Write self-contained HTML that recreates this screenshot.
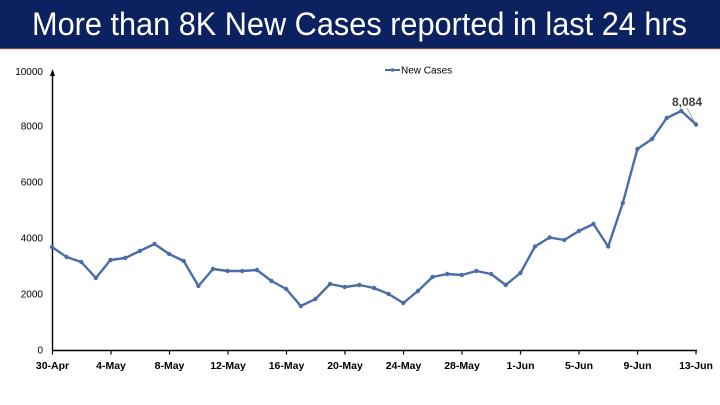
<!DOCTYPE html>
<html><head><meta charset="utf-8"><style>
html,body{margin:0;padding:0;background:#fff;}
svg{display:block;}
</style></head><body>
<svg width="720" height="405" viewBox="0 0 720 405" xmlns="http://www.w3.org/2000/svg">
<rect x="0" y="0" width="720" height="405" fill="#fff"/>
<rect x="0" y="0" width="720" height="48" fill="#0c2160"/>
<rect x="0" y="48" width="720" height="1.2" fill="#8a4a4a"/>
<text x="32" y="35" fill="#fff" font-family="Liberation Sans, sans-serif" font-size="32" textLength="655" lengthAdjust="spacingAndGlyphs">More than 8K New Cases reported in last 24 hrs</text>

<!-- axes -->
<line x1="52.5" y1="350.5" x2="697" y2="350.5" stroke="#000" stroke-width="1.5"/>
<line x1="52.5" y1="351" x2="52.5" y2="75" stroke="#000" stroke-width="1.4"/>
<polygon points="52.5,69 50,76 55,76" fill="#000"/>
<g stroke="#000" stroke-width="1.2">
<line x1="52.5" y1="350" x2="52.5" y2="354.5"/>
<line x1="111" y1="350" x2="111" y2="354.5"/>
<line x1="169.5" y1="350" x2="169.5" y2="354.5"/>
<line x1="228" y1="350" x2="228" y2="354.5"/>
<line x1="286.5" y1="350" x2="286.5" y2="354.5"/>
<line x1="345" y1="350" x2="345" y2="354.5"/>
<line x1="403.5" y1="350" x2="403.5" y2="354.5"/>
<line x1="462" y1="350" x2="462" y2="354.5"/>
<line x1="520.5" y1="350" x2="520.5" y2="354.5"/>
<line x1="579" y1="350" x2="579" y2="354.5"/>
<line x1="637.5" y1="350" x2="637.5" y2="354.5"/>
<line x1="696" y1="350" x2="696" y2="354.5"/>
</g>

<g font-family="Liberation Sans, sans-serif" font-size="10" fill="#000" text-anchor="end">
<text x="43" y="353.5">0</text>
<text x="43" y="297.5">2000</text>
<text x="43" y="241.5">4000</text>
<text x="43" y="185.5">6000</text>
<text x="43" y="129.5">8000</text>
<text x="43" y="75">10000</text>
</g>

<g font-family="Liberation Sans, sans-serif" font-size="10.5" font-weight="bold" fill="#000" text-anchor="middle">
<text x="52.5" y="369">30-Apr</text>
<text x="111" y="369">4-May</text>
<text x="169.5" y="369">8-May</text>
<text x="228" y="369">12-May</text>
<text x="286.5" y="369">16-May</text>
<text x="345" y="369">20-May</text>
<text x="403.5" y="369">24-May</text>
<text x="462" y="369">28-May</text>
<text x="520.5" y="369">1-Jun</text>
<text x="579" y="369">5-Jun</text>
<text x="637.5" y="369">9-Jun</text>
<text x="696" y="369">13-Jun</text>
</g>

<!-- legend -->
<line x1="385" y1="70" x2="400" y2="70" stroke="#4a6da8" stroke-width="2"/>
<circle cx="392.5" cy="70" r="1.8" fill="#4a6da8"/>
<text x="401" y="73.5" font-family="Liberation Sans, sans-serif" font-size="10" fill="#000">New Cases</text>

<!-- data label -->
<line x1="687" y1="108" x2="695" y2="123" stroke="#999" stroke-width="0.8"/>
<text x="687" y="106" text-anchor="middle" font-family="Liberation Sans, sans-serif" font-size="12" font-weight="bold" fill="#404040">8,084</text>

<!-- series -->
<polyline fill="none" stroke="#4a6da8" stroke-width="2.4" stroke-linejoin="round" points="
52,247 66.6,257 81.3,262 95.9,278 110.5,260 125.2,258 139.8,251 154.5,244 169.1,254 183.7,261
198.4,286 213,269 227.6,271 242.3,271 256.9,270 271.5,281 286.2,289 300.8,306 315.4,299 330.1,284
344.7,287 359.4,285 374,288 388.6,294 403.3,303 417.9,291 432.5,277 447.2,274 461.8,275 476.4,271
491.1,274 505.7,285 520.4,273 535,246.5 549.6,237.5 564.3,240 578.9,231 593.5,224 608.2,246.5 622.8,203
637.4,149 652.1,139 666.7,118 681.3,111 696,124.5"/>
<g fill="#4a6da8">
<circle cx="52" cy="247" r="2.2"/><circle cx="66.6" cy="257" r="2.2"/><circle cx="81.3" cy="262" r="2.2"/><circle cx="95.9" cy="278" r="2.2"/><circle cx="110.5" cy="260" r="2.2"/>
<circle cx="125.2" cy="258" r="2.2"/><circle cx="139.8" cy="251" r="2.2"/><circle cx="154.5" cy="244" r="2.2"/><circle cx="169.1" cy="254" r="2.2"/><circle cx="183.7" cy="261" r="2.2"/>
<circle cx="198.4" cy="286" r="2.2"/><circle cx="213" cy="269" r="2.2"/><circle cx="227.6" cy="271" r="2.2"/><circle cx="242.3" cy="271" r="2.2"/><circle cx="256.9" cy="270" r="2.2"/>
<circle cx="271.5" cy="281" r="2.2"/><circle cx="286.2" cy="289" r="2.2"/><circle cx="300.8" cy="306" r="2.2"/><circle cx="315.4" cy="299" r="2.2"/><circle cx="330.1" cy="284" r="2.2"/>
<circle cx="344.7" cy="287" r="2.2"/><circle cx="359.4" cy="285" r="2.2"/><circle cx="374" cy="288" r="2.2"/><circle cx="388.6" cy="294" r="2.2"/><circle cx="403.3" cy="303" r="2.2"/>
<circle cx="417.9" cy="291" r="2.2"/><circle cx="432.5" cy="277" r="2.2"/><circle cx="447.2" cy="274" r="2.2"/><circle cx="461.8" cy="275" r="2.2"/><circle cx="476.4" cy="271" r="2.2"/>
<circle cx="491.1" cy="274" r="2.2"/><circle cx="505.7" cy="285" r="2.2"/><circle cx="520.4" cy="273" r="2.2"/><circle cx="535" cy="246.5" r="2.2"/><circle cx="549.6" cy="237.5" r="2.2"/>
<circle cx="564.3" cy="240" r="2.2"/><circle cx="578.9" cy="231" r="2.2"/><circle cx="593.5" cy="224" r="2.2"/><circle cx="608.2" cy="246.5" r="2.2"/><circle cx="622.8" cy="203" r="2.2"/>
<circle cx="637.4" cy="149" r="2.2"/><circle cx="652.1" cy="139" r="2.2"/><circle cx="666.7" cy="118" r="2.2"/><circle cx="681.3" cy="111" r="2.2"/><circle cx="696" cy="124.5" r="2.2"/>
</g>
</svg>
</body></html>
